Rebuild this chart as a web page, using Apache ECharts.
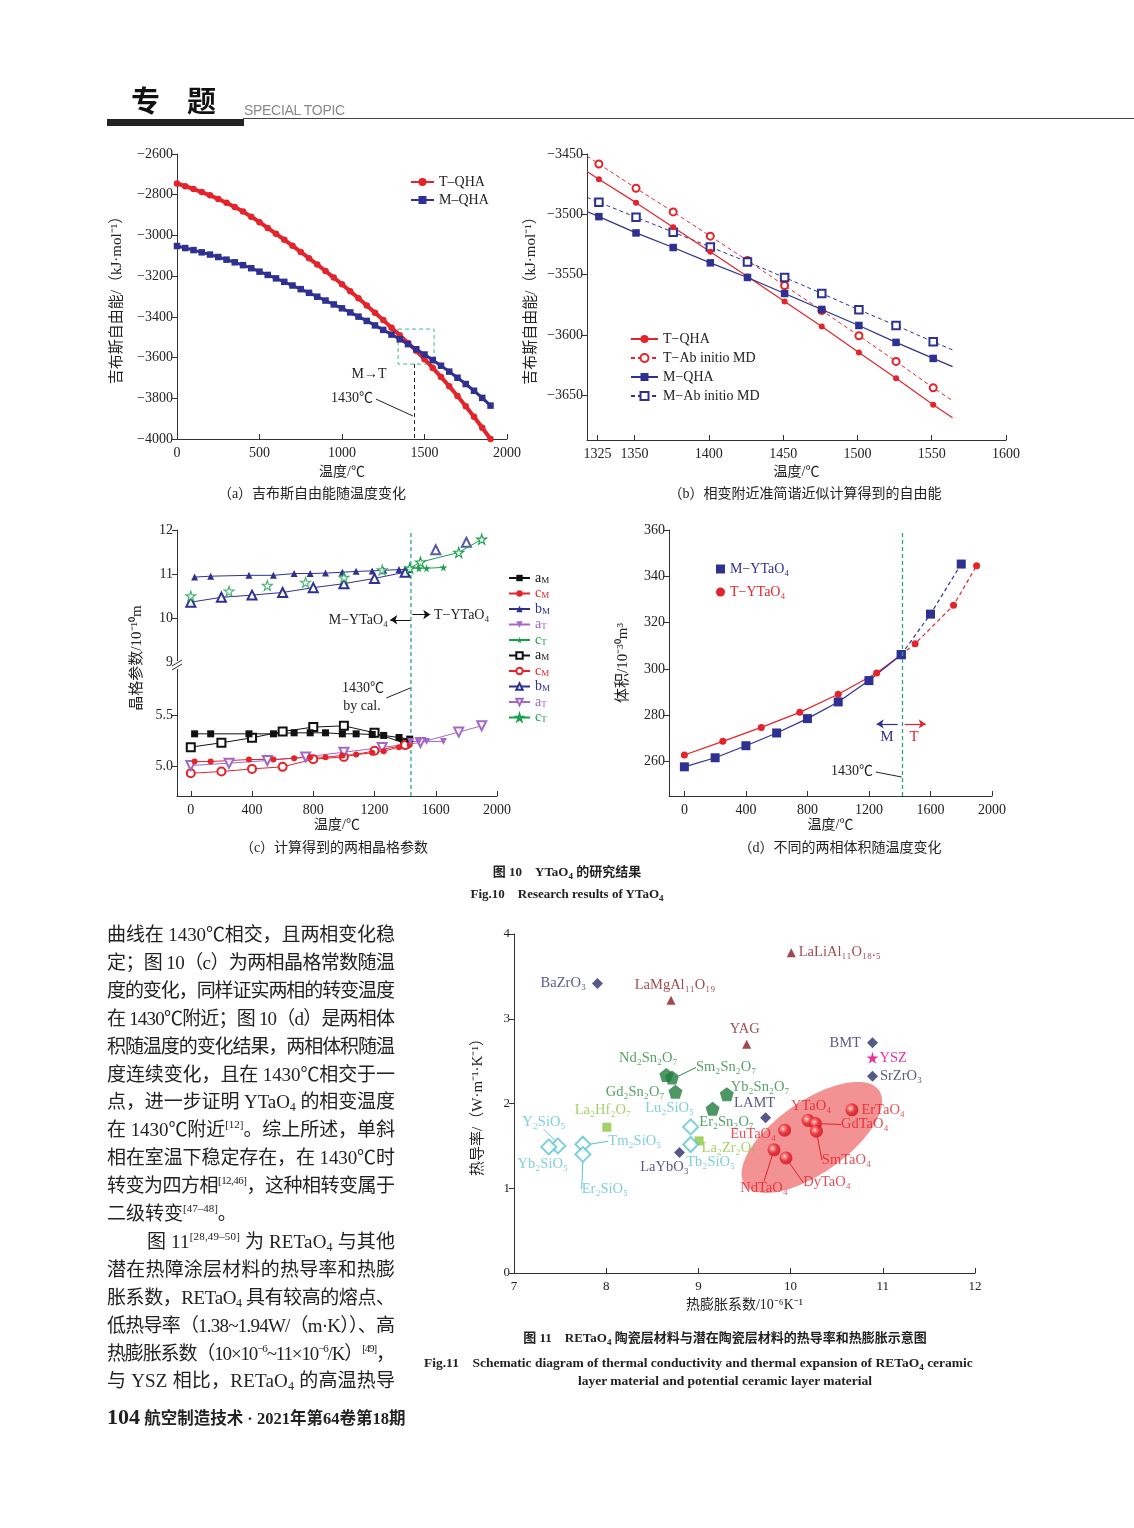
<!DOCTYPE html>
<html><head><meta charset="utf-8">
<script src="https://cdn.jsdelivr.net/npm/echarts@6/dist/echarts.min.js"></script>
<style>
html,body{margin:0;padding:0;background:#fff;}
#page{position:relative;width:1134px;height:1528px;overflow:hidden;background:#fff;}
#chart{position:absolute;left:0;top:0;width:1134px;height:1528px;}
.t{position:absolute;white-space:nowrap;font-family:"Liberation Serif","Noto Sans CJK SC",serif;color:#222;}
.c{transform:translateX(-50%);}
.jl{position:absolute;white-space:nowrap;font-family:"Liberation Serif","Noto Sans CJK SC",serif;font-size:19px;line-height:28px;color:#222;}
sub{font-size:12px;vertical-align:-3px;line-height:0;}
sup{font-size:11px;vertical-align:8px;line-height:0;}
.b{font-weight:bold;}
</style></head>
<body><div id="page">
<div id="chart"></div>
<div class="t" style="left:131px;top:78px;font-size:29px;font-weight:bold;letter-spacing:27px;font-family:'Noto Sans CJK SC';color:#111;">专题</div>
<div class="t" style="left:244px;top:102px;font-size:14px;color:#8a8a8a;font-family:'Liberation Sans';letter-spacing:-0.3px;">SPECIAL TOPIC</div>
<div style="position:absolute;left:107px;top:119px;width:137px;height:7px;background:#222;"></div>
<div style="position:absolute;left:243px;top:118px;width:891px;height:1px;background:#444;"></div>

<div class="t c" style="left:312px;top:482px;font-size:14px;">（a）吉布斯自由能随温度变化</div>
<div class="t c" style="left:805px;top:482px;font-size:14px;">（b）相变附近准简谐近似计算得到的自由能</div>
<div class="t c" style="left:334px;top:836px;font-size:14px;">（c）计算得到的两相晶格参数</div>
<div class="t c" style="left:840px;top:836px;font-size:14px;">（d）不同的两相体积随温度变化</div>
<div class="t c b" style="left:567px;top:861px;font-size:13px;">图 10　YTaO<sub style="font-size:9px">4</sub> 的研究结果</div>
<div class="t c b" style="left:567px;top:883px;font-size:13px;">Fig.10　Research results of YTaO<sub style="font-size:9px">4</sub></div>

<div class="t c b" style="left:725px;top:1327px;font-size:13px;">图 11　RETaO<sub style="font-size:9px">4</sub> 陶瓷层材料与潜在陶瓷层材料的热导率和热膨胀示意图</div>
<div class="t b" style="left:424px;top:1351px;font-size:13.5px;">Fig.11　Schematic diagram of thermal conductivity and thermal expansion of RETaO<sub style="font-size:9px">4</sub> ceramic</div>
<div class="t c b" style="left:725px;top:1373px;font-size:13.5px;">layer material and potential ceramic layer material</div>

<div class="t b" style="left:107px;top:1404px;font-size:16.5px;"><span style="font-size:22px;">104</span> 航空制造技术 · 2021年第64卷第18期</div>

<div id="para"></div>

<script>
// ---------------- DATA ----------------
// Fig.10(a) Gibbs free energy vs temperature
const aTemp = [0,50,100,150,200,250,300,350,400,450,500,550,600,650,700,750,800,850,900,950,1000,1050,1100,1150,1200,1250,1300,1350,1400,1450,1500,1550,1600,1650,1700,1750,1800,1850,1900];
const aTQHA = [-2745,-2758,-2772,-2787,-2803,-2821,-2840,-2860,-2883,-2908,-2935,-2963,-2992,-3021,-3051,-3081,-3112,-3143,-3175,-3207,-3240,-3274,-3309,-3344,-3380,-3416,-3453,-3490,-3528,-3567,-3608,-3651,-3695,-3741,-3789,-3839,-3891,-3945,-4000];
const aMQHA = [-3052,-3062,-3072,-3083,-3094,-3106,-3119,-3132,-3146,-3161,-3178,-3194,-3211,-3228,-3246,-3264,-3282,-3301,-3320,-3339,-3358,-3378,-3399,-3420,-3442,-3464,-3487,-3510,-3534,-3559,-3585,-3612,-3640,-3669,-3699,-3730,-3763,-3798,-3836];
const aXTicks = [0,500,1000,1500,2000];

// Fig.10(b) free energy near the transition
const bTemp = [1326,1351,1376,1401,1426,1451,1476,1501,1526,1551];
const bFitTemp = [1318,1564];
const bTQHA = [-3471,-3490.3,-3510.7,-3531.1,-3551.5,-3572.2,-3592.9,-3614.4,-3635.9,-3657.7];
const bTQHAFit = [-3464.4,-3668.5];
const bTMD = [-3458.3,-3478.4,-3498,-3518.1,-3538.3,-3559,-3579.7,-3600.6,-3621.9,-3643.7];
const bTMDFit = [-3451.7,-3654.4];
const bMQHA = [-3501.9,-3515.4,-3527.5,-3540.2,-3552.3,-3565.6,-3578.8,-3592.1,-3606.1,-3619.4];
const bMQHAFit = [-3497.7,-3626.2];
const bMMD = [-3490,-3502.4,-3514.8,-3527,-3539.4,-3552.3,-3565.6,-3579.1,-3592.1,-3605.6];
const bMMDFit = [-3485.9,-3612.3];
const bXTicks = [1325,1350,1400,1450,1500,1550,1600];
const bYTicks = [-3650,-3600,-3550,-3500,-3450];

// Fig.10(c) lattice parameters
const cTempMf = [25,130,380,540,675,780,880,990,1080,1185,1260,1360,1430];
const c_aMf = [5.322,5.322,5.322,5.322,5.332,5.332,5.332,5.322,5.322,5.316,5.306,5.286,5.27];
const c_cMf = [5.049,5.049,5.069,5.069,5.082,5.092,5.092,5.109,5.118,5.135,5.151,5.191,5.214];
const c_bMf = [10.93,10.95,10.97,10.97,11.01,11.01,11.02,11.04,11.06,11.07,11.085,11.10,11.10];
const cTempTf = [1435,1490,1540,1650];
const c_aTf = [5.247,5.247,5.247,5.247];
const c_cTf = [11.13,11.13,11.13,11.15];
const cTempMo = [0,200,400,600,800,1000,1200,1400];
const c_aMo = [5.191,5.234,5.283,5.345,5.388,5.401,5.332,5.227];
const c_cMo = [4.934,4.951,4.977,4.997,5.072,5.095,5.155,5.211];
const c_bMo = [10.36,10.47,10.52,10.58,10.69,10.78,10.90,11.04];
const cTempMoHigh = [1600,1800];
const c_bMoHigh = [11.55,11.72];
const cTempTo = [0,250,500,750,1000,1250,1430,1500,1750,1900];
const c_cTo = [10.50,10.61,10.74,10.81,10.92,11.09,11.13,11.27,11.49,11.79];
const cTempTa = [0,250,500,750,1000,1250,1500,1750,1900];
const c_aTo = [5.010,5.033,5.059,5.095,5.141,5.188,5.237,5.339,5.401];
const cXTicks = [0,400,800,1200,1600,2000];
const cLowTicks = [5.0,5.5];
const cTransition = 1438;

// Fig.10(d) cell volume
const dTempM = [0,200,400,600,800,1000,1200,1410,1600,1800];
const dVolM = [257.8,261.7,266.9,272.4,278.6,285.8,295.0,306.2,323.7,345.3];
const dTempT = [0,250,500,750,1000,1250,1410,1500,1750,1900];
const dVolT = [262.9,268.8,274.8,281.3,289.1,298.3,306.2,310.9,327.5,344.6];
const dXTicks = [0,400,800,1200,1600,2000];
const dYTicks = [260,280,300,320,340,360];
const dTransition = 1415;

// Fig.11 thermal conductivity vs thermal expansion
const diaNames = ['BaZrO3','LAMT','BMT','SrZrO3','LaYbO3'];
const diaCTE = [7.905,9.729,10.888,10.888,8.795];
const diaK = [3.417,1.831,2.717,2.323,1.421];
const triNames = ['LaMgAl11O19','YAG','LaLiAl11O18.5'];
const triCTE = [8.703,9.524,10.007];
const triK = [3.217,2.70,3.78];
const pentNames = ['Nd2Sn2O7','Sm2Sn2O7','Gd2Sn2O7','Yb2Sn2O7','Er2Sn2O7'];
const pentCTE = [8.652,8.714,8.751,9.308,9.154];
const pentK = [2.335,2.307,2.138,2.110,1.937];
const sqNames = ['La2Hf2O7','La2Zr2O7'];
const sqCTE = [8.007,9.007];
const sqK = [1.72,1.559];
const silNames = ['Lu2SiO5','Tb2SiO5','Y2SiO5','Yb2SiO5','Tm2SiO5','Er2SiO5'];
const silCTE = [8.916,8.916,7.476,7.377,7.747,7.747];
const silK = [1.724,1.516,1.50,1.488,1.52,1.40];
const yszNames = ['YSZ'];
const yszCTE = [10.888];
const yszK = [2.539];
const taNames = ['YTaO4','GdTaO4','ErTaO4','EuTaO4','SmTaO4','NdTaO4','DyTaO4'];
const taCTE = [10.19,10.27,10.665,9.935,10.28,9.82,9.95];
const taK = [1.80,1.764,1.925,1.685,1.673,1.453,1.358];
const ellipseCenter = [10.23,1.60];

// ---------------- STYLE ----------------
const serif = '"Liberation Serif","Noto Sans CJK SC",serif';
const RED = '#e3242b', NAVY = '#2e3192', GREEN = '#17a04b', PURPLE = '#a467c6', TEAL = '#2aa58a', BLK = '#111';
const STAR = 'path://M50,0 L61,35 L98,35 L68,57 L79,91 L50,70 L21,91 L32,57 L2,35 L39,35 Z';
const PENT = 'path://M50,0 L97.6,34.5 L79.4,90.5 L20.6,90.5 L2.4,34.5 Z';
const plain = v => String(v);
const minus = v => (v < 0 ? '−' : '') + Math.abs(v);
const zip = (xs, ys) => xs.map((x, i) => [x, ys[i]]);
const SUBS = '₀₁₂₃₄₅₆₇₈₉';
const sub = s => s.replace(/([A-Za-z])([0-9.]+)/g, (m, a, d) => a + d.split('').map(ch => ch === '.' ? '.' : SUBS[+ch]).join(''));

function deep(a, b) {
  for (const k in b) {
    if (b[k] && typeof b[k] === 'object' && !Array.isArray(b[k]) && !(b[k] instanceof Function) && a[k] && typeof a[k] === 'object') deep(a[k], b[k]);
    else a[k] = b[k];
  }
  return a;
}
function xAx(gi, min, max, extra) {
  const o = {
    type: 'value', gridIndex: gi, min, max,
    axisLine: {show: true, onZero: false, lineStyle: {color: '#333', width: 1}},
    axisTick: {show: true, inside: true, length: 5, lineStyle: {color: '#333'}},
    axisLabel: {color: '#222', fontFamily: serif, fontSize: 14, margin: 7, formatter: plain},
    splitLine: {show: false},
    nameLocation: 'middle',
    nameTextStyle: {fontFamily: serif, fontSize: 14, color: '#222'}
  };
  return deep(o, extra || {});
}
function yAx(gi, min, max, extra) {
  const o = {
    type: 'value', gridIndex: gi, min, max,
    axisLine: {show: true, onZero: false, lineStyle: {color: '#333', width: 1}},
    axisTick: {show: true, inside: false, length: 5, lineStyle: {color: '#333'}},
    axisLabel: {color: '#222', fontFamily: serif, fontSize: 14, margin: 4, formatter: plain},
    splitLine: {show: false},
    nameLocation: 'middle', nameRotate: 90,
    nameTextStyle: {fontFamily: serif, fontSize: 15, color: '#222'}
  };
  return deep(o, extra || {});
}
function fitData(vals, fit) {
  return [{value: [bFitTemp[0], fit[0]], symbol: 'none'}]
    .concat(bTemp.map((t, i) => [t, vals[i]]))
    .concat([{value: [bFitTemp[1], fit[1]], symbol: 'none'}]);
}

// label placements for Fig.11 (position, distance, shift dx/dy, leader line)
const place = {
  BaZrO3: {p: 'left', d: 6}, LaMgAl11O19: {p: 'top', dx: 4, dy: 2}, YAG: {p: 'top', dx: -2, dy: 2},
  'LaLiAl11O18.5': {p: 'right', d: 3}, Nd2Sn2O7: {p: 'top', dx: -18, dy: 2},
  Sm2Sn2O7: {p: 'right', dx: 12, dy: -10, line: true}, Gd2Sn2O7: {p: 'left', d: 4},
  Yb2Sn2O7: {p: 'right', dx: -8, dy: -7}, Er2Sn2O7: {p: 'bottom', dx: 14, dy: -6},
  LAMT: {p: 'top', dx: -11, dy: 3}, BMT: {p: 'left', d: 6}, YSZ: {p: 'right', d: 1}, SrZrO3: {p: 'right', d: 2},
  La2Hf2O7: {p: 'top', dx: -4, dy: 0}, La2Zr2O7: {p: 'right', dx: -7, dy: 7},
  Lu2SiO5: {p: 'top', dx: -21, dy: 2}, Tb2SiO5: {p: 'bottom', dx: 20, dy: -3}, LaYbO3: {p: 'bottom', dx: -15, dy: -3},
  Y2SiO5: {p: 'top', dx: -14, dy: -3, line: true}, Yb2SiO5: {p: 'bottom', dx: -6, dy: -3},
  Tm2SiO5: {p: 'right', dx: 12, dy: -3, line: true}, Er2SiO5: {p: 'bottom', dx: 22, dy: 14, line: true},
  YTaO4: {p: 'top', dx: 3, dy: 4}, GdTaO4: {p: 'right', dx: 14, dy: 1, line: true}, ErTaO4: {p: 'right', d: 3},
  EuTaO4: {p: 'left', dx: 0, dy: 4, d: 2}, SmTaO4: {p: 'bottom', dx: 30, dy: 10, line: true},
  NdTaO4: {p: 'bottom', dx: -10, dy: 20, line: true}, DyTaO4: {p: 'bottom', dx: 41, dy: 6, line: true}
};
function matSeries(names, xs, ys, symbol, size, itemStyle, labelColor) {
  return {
    type: 'scatter', xAxisIndex: 6, yAxisIndex: 6, symbol, symbolSize: size, itemStyle, z: 5,
    data: names.map((n, i) => {
      const pl = place[n] || {p: 'right'};
      const item = {name: n, value: [xs[i], ys[i]],
        label: {position: pl.p, distance: pl.d != null ? pl.d : 5}};
      if (pl.line) item.labelLine = {show: true, lineStyle: {color: labelColor, width: 1}};
      return item;
    }),
    label: {show: true, formatter: p => sub(p.name), color: labelColor, fontFamily: serif, fontSize: 14.5},
    labelLayout: p => { const pl = place[names[p.dataIndex]]; return pl && pl.dx != null ? {dx: pl.dx, dy: pl.dy} : {}; }
  };
}

const sphere = new echarts.graphic.RadialGradient(0.38, 0.38, 0.65, [
  {offset: 0, color: '#ffffff'}, {offset: 0.22, color: '#ff8a8a'}, {offset: 0.55, color: '#e8202a'}, {offset: 1, color: '#c8101a'}]);

const cLegendStyle = {rich: {
  a: {fontSize: 14, lineHeight: 14, fontFamily: serif},
  b: {fontSize: 9, lineHeight: 14, verticalAlign: 'bottom', fontFamily: serif, padding: [4, 0, 0, 0]}
}};

const option = {
  animation: false,
  backgroundColor: 'transparent',
  grid: [
    {left: 177, top: 154, width: 330, height: 285},
    {left: 587, top: 154, width: 419, height: 286},
    {left: 177, top: 530, width: 320, height: 132},
    {left: 177, top: 668, width: 320, height: 128},
    {left: 177, top: 530, width: 320, height: 266},
    {left: 669, top: 530, width: 323, height: 266},
    {left: 514, top: 934, width: 461, height: 339}
  ],
  xAxis: [
    xAx(0, 0, 2000, {interval: 500, name: '温度/℃', nameGap: 26, axisLabel: {customValues: aXTicks}, axisTick: {customValues: aXTicks}}),
    xAx(1, 1318, 1600, {name: '温度/℃', nameGap: 25, axisLabel: {customValues: bXTicks}, axisTick: {customValues: bXTicks}}),
    xAx(2, -90, 2000, {show: false}),
    xAx(3, -90, 2000, {name: '温度/℃', nameGap: 22, axisLabel: {customValues: cXTicks}, axisTick: {customValues: cXTicks}}),
    xAx(4, -90, 2000, {show: false}),
    xAx(5, -100, 2000, {name: '温度/℃', nameGap: 22, axisLabel: {customValues: dXTicks}, axisTick: {customValues: dXTicks}}),
    xAx(6, 7, 12, {interval: 1, name: '热膨胀系数/10⁻⁶K⁻¹', nameGap: 25, axisLabel: {fontSize: 13}})
  ],
  yAxis: [
    yAx(0, -4000, -2600, {interval: 200, name: '吉布斯自由能/（kJ·mol⁻¹）', nameGap: 52, axisLabel: {formatter: minus}}),
    yAx(1, -3687, -3450, {name: '吉布斯自由能/（kJ·mol⁻¹）', nameGap: 48, axisLabel: {formatter: minus, customValues: bYTicks}, axisTick: {customValues: bYTicks}}),
    yAx(2, 9, 12, {interval: 1}),
    yAx(3, 4.71, 5.97, {axisLabel: {formatter: v => v.toFixed(1), customValues: cLowTicks}, axisTick: {customValues: cLowTicks}}),
    yAx(4, 0, 1, {show: false}),
    yAx(5, 245.2, 360, {name: '体积/10⁻³⁰m³', nameGap: 38, axisLabel: {customValues: dYTicks}, axisTick: {customValues: dYTicks}}),
    yAx(6, 0, 4, {interval: 1, name: '热导率/（W·m⁻¹·K⁻¹）', nameGap: 28, axisLabel: {fontSize: 13}})
  ],
  legend: [
    {data: ['T–QHA', 'M–QHA'], left: 405, top: 170, orient: 'vertical', itemWidth: 23, itemHeight: 10, itemGap: 4, selectedMode: false,
      textStyle: {fontFamily: serif, fontSize: 14, color: '#222'}},
    {data: ['T−QHA', 'T−Ab initio MD', 'M−QHA', 'M−Ab initio MD'], left: 625, top: 327, orient: 'vertical', itemWidth: 27, itemHeight: 10, itemGap: 5, selectedMode: false,
      textStyle: {fontFamily: serif, fontSize: 14, color: '#222'}},
    {data: [
        {name: 'aM1', textStyle: {color: BLK}}, {name: 'cM1', textStyle: {color: RED}}, {name: 'bM1', textStyle: {color: NAVY}},
        {name: 'aT1', textStyle: {color: PURPLE}}, {name: 'cT1', textStyle: {color: GREEN}},
        {name: 'aM2', textStyle: {color: BLK}}, {name: 'cM2', textStyle: {color: RED}}, {name: 'bM2', textStyle: {color: NAVY}},
        {name: 'aT2', textStyle: {color: PURPLE}}, {name: 'cT2', textStyle: {color: GREEN}}],
      left: 503, top: 566, orient: 'vertical', itemWidth: 21, itemHeight: 8, itemGap: 1.5, selectedMode: false,
      formatter: n => '{a|' + n[0] + '}{b|' + n[1] + '}', textStyle: cLegendStyle},
    {data: [{name: 'M−YTaO₄', icon: 'rect', textStyle: {color: NAVY}}, {name: 'T−YTaO₄', icon: 'circle', textStyle: {color: RED}}],
      left: 711, top: 557, orient: 'vertical', itemWidth: 9, itemHeight: 9, itemGap: 9, selectedMode: false,
      textStyle: {fontFamily: serif, fontSize: 14}}
  ],
  series: [
    // ---- (a)
    {name: 'T–QHA', type: 'line', xAxisIndex: 0, yAxisIndex: 0, data: zip(aTemp, aTQHA), symbol: 'circle', symbolSize: 6.5,
      itemStyle: {color: RED}, lineStyle: {color: RED, width: 4}, z: 3},
    {name: 'M–QHA', type: 'line', xAxisIndex: 0, yAxisIndex: 0, data: zip(aTemp, aMQHA), symbol: 'rect', symbolSize: 6.5,
      itemStyle: {color: NAVY}, lineStyle: {color: NAVY, width: 3}, z: 4,
      markArea: {silent: true, itemStyle: {color: 'rgba(0,0,0,0)', borderColor: '#3dbb8f', borderWidth: 1, borderType: [4, 3]},
        data: [[{coord: [1340, -3460]}, {coord: [1558, -3632]}]]},
      markLine: {silent: true, symbol: ['none', 'none'], label: {show: false}, animation: false,
        data: [
          [{coord: [1438, -3632], lineStyle: {type: [4, 3], color: '#222', width: 1}}, {coord: [1438, -4000]}],
          [{coord: [1206, -3804], lineStyle: {type: 'solid', color: '#222', width: 1}}, {coord: [1430, -3887]}]
        ]}},
    // ---- (b)
    {name: 'T−Ab initio MD', type: 'line', xAxisIndex: 1, yAxisIndex: 1, data: fitData(bTMD, bTMDFit), symbol: 'emptyCircle', symbolSize: 7,
      itemStyle: {color: RED}, lineStyle: {color: RED, width: 1, type: [4, 3]}},
    {name: 'M−Ab initio MD', type: 'line', xAxisIndex: 1, yAxisIndex: 1, data: fitData(bMMD, bMMDFit), symbol: 'emptyRect', symbolSize: 7.5,
      itemStyle: {color: NAVY}, lineStyle: {color: NAVY, width: 1, type: [4, 3]}},
    {name: 'T−QHA', type: 'line', xAxisIndex: 1, yAxisIndex: 1, data: fitData(bTQHA, bTQHAFit), symbol: 'circle', symbolSize: 6,
      itemStyle: {color: RED}, lineStyle: {color: RED, width: 1.2}},
    {name: 'M−QHA', type: 'line', xAxisIndex: 1, yAxisIndex: 1, data: fitData(bMQHA, bMQHAFit), symbol: 'rect', symbolSize: 7.5,
      itemStyle: {color: NAVY}, lineStyle: {color: NAVY, width: 1.2}},
    // ---- (c) transition line
    {name: 'cTrans', type: 'line', xAxisIndex: 4, yAxisIndex: 4, data: [[cTransition, 0], [cTransition, 1]], symbol: 'none',
      lineStyle: {color: TEAL, width: 1.3, type: [4, 3]}, silent: true, z: 1},
    // upper
    {name: 'bM2', type: 'line', xAxisIndex: 2, yAxisIndex: 2, data: zip(cTempMo, c_bMo), symbol: 'emptyTriangle', symbolSize: 9,
      itemStyle: {color: NAVY}, lineStyle: {color: NAVY, width: 1}},
    {name: 'bM2x', type: 'scatter', xAxisIndex: 2, yAxisIndex: 2, data: zip(cTempMoHigh, c_bMoHigh), symbol: 'emptyTriangle', symbolSize: 9,
      itemStyle: {color: NAVY}},
    {name: 'cT2x', type: 'scatter', xAxisIndex: 2, yAxisIndex: 2, data: zip(cTempTo, c_cTo).filter(d => d[0] < 1400), symbol: STAR, symbolSize: 10,
      itemStyle: {color: '#fff', borderColor: GREEN, borderWidth: 1.1}, z: 4},
    {name: 'cT2', type: 'line', xAxisIndex: 2, yAxisIndex: 2, data: zip(cTempTo, c_cTo).filter(d => d[0] >= 1400), symbol: STAR, symbolSize: 10,
      itemStyle: {color: '#fff', borderColor: GREEN, borderWidth: 1.1}, lineStyle: {color: GREEN, width: 1}, z: 4},
    {name: 'bM1', type: 'line', xAxisIndex: 2, yAxisIndex: 2, data: zip(cTempMf, c_bMf), symbol: 'triangle', symbolSize: 7,
      itemStyle: {color: NAVY}, lineStyle: {color: NAVY, width: 1}},
    {name: 'cT1', type: 'line', xAxisIndex: 2, yAxisIndex: 2, data: zip(cTempTf, c_cTf), symbol: STAR, symbolSize: 8,
      itemStyle: {color: GREEN}, lineStyle: {color: GREEN, width: 1}},
    // lower
    {name: 'aM2', type: 'line', xAxisIndex: 3, yAxisIndex: 3, data: zip(cTempMo, c_aMo), symbol: 'emptyRect', symbolSize: 8,
      itemStyle: {color: BLK}, lineStyle: {color: BLK, width: 1}},
    {name: 'cM2', type: 'line', xAxisIndex: 3, yAxisIndex: 3, data: zip(cTempMo, c_cMo), symbol: 'emptyCircle', symbolSize: 8,
      itemStyle: {color: RED}, lineStyle: {color: RED, width: 1}},
    {name: 'aT2', type: 'line', xAxisIndex: 3, yAxisIndex: 3, data: zip(cTempTa, c_aTo), symbol: 'emptyTriangle', symbolRotate: 180, symbolSize: 9,
      itemStyle: {color: PURPLE}, lineStyle: {color: PURPLE, width: 1}},
    {name: 'aM1', type: 'line', xAxisIndex: 3, yAxisIndex: 3, data: zip(cTempMf, c_aMf), symbol: 'rect', symbolSize: 7,
      itemStyle: {color: BLK}, lineStyle: {color: BLK, width: 1}},
    {name: 'cM1', type: 'line', xAxisIndex: 3, yAxisIndex: 3, data: zip(cTempMf, c_cMf), symbol: 'circle', symbolSize: 6,
      itemStyle: {color: RED}, lineStyle: {color: RED, width: 1},
      markLine: {silent: true, symbol: ['none', 'none'], label: {show: false},
        data: [[{coord: [1277, 5.675], lineStyle: {type: 'solid', color: '#222', width: 1}}, {coord: [1434, 5.773]}]]}},
    {name: 'aT1', type: 'line', xAxisIndex: 3, yAxisIndex: 3, data: zip(cTempTf, c_aTf), symbol: 'triangle', symbolRotate: 180, symbolSize: 7,
      itemStyle: {color: PURPLE}, lineStyle: {color: PURPLE, width: 1}},
    // arrows in (c) on upper grid
    {name: 'cArrows', type: 'line', xAxisIndex: 2, yAxisIndex: 2, data: [], silent: true,
      markLine: {silent: true, symbol: ['none', 'arrow'], symbolSize: 7, label: {show: false},
        data: [
          [{coord: [1434, 9.96], lineStyle: {color: '#111', width: 1, type: 'solid'}}, {coord: [1303, 9.96]}],
          [{coord: [1447, 10.08], lineStyle: {color: '#111', width: 1, type: 'solid'}}, {coord: [1564, 10.08]}]
        ]}},
    // ---- (d)
    {name: 'T−YTaO₄', type: 'line', xAxisIndex: 5, yAxisIndex: 5, data: zip(dTempT, dVolT).filter(d => d[0] <= 1410), symbol: 'circle', symbolSize: 7,
      itemStyle: {color: RED}, lineStyle: {color: RED, width: 1.2}},
    {name: 'T−YTaO₄d', type: 'line', xAxisIndex: 5, yAxisIndex: 5, data: zip(dTempT, dVolT).filter(d => d[0] >= 1410), symbol: 'circle', symbolSize: 7,
      itemStyle: {color: RED}, lineStyle: {color: RED, width: 1.2, type: [4, 3]}},
    {name: 'M−YTaO₄d', type: 'line', xAxisIndex: 5, yAxisIndex: 5, data: zip(dTempM, dVolM).filter(d => d[0] >= 1410), symbol: 'rect', symbolSize: 9,
      itemStyle: {color: NAVY}, lineStyle: {color: NAVY, width: 1.2, type: [4, 3]}},
    {name: 'M−YTaO₄', type: 'line', xAxisIndex: 5, yAxisIndex: 5, data: zip(dTempM, dVolM).filter(d => d[0] <= 1410), symbol: 'rect', symbolSize: 9,
      itemStyle: {color: NAVY}, lineStyle: {color: NAVY, width: 1.2},
      markLine: {silent: true, symbol: ['none', 'none'], label: {show: false},
        data: [
          {xAxis: dTransition, lineStyle: {color: TEAL, width: 1.3, type: [4, 3]}},
          [{coord: [1244, 255.55], lineStyle: {color: '#222', width: 1, type: 'solid'}}, {coord: [1413, 253.4]}],
          [{coord: [1387, 276.3], symbol: 'none', lineStyle: {color: NAVY, width: 1.2, type: 'solid'}}, {coord: [1250, 276.3], symbol: 'arrow', symbolSize: 7}],
          [{coord: [1432, 276.3], symbol: 'none', lineStyle: {color: RED, width: 1.2, type: 'solid'}}, {coord: [1569, 276.3], symbol: 'arrow', symbolSize: 7}]
        ]}},
    // ---- Fig.11
    {name: 'ellipse', type: 'custom', xAxisIndex: 6, yAxisIndex: 6, data: [ellipseCenter], silent: true, z: 1,
      renderItem: (params, api) => {
        const c = api.coord([api.value(0), api.value(1)]);
        const a = 82, b = 36, th = 35 * Math.PI / 180, pts = [];
        for (let i = 0; i < 90; i++) {
          const t = i / 90 * 2 * Math.PI, x = a * Math.cos(t), y = b * Math.sin(t);
          pts.push([c[0] + x * Math.cos(th) + y * Math.sin(th), c[1] - x * Math.sin(th) + y * Math.cos(th)]);
        }
        return {type: 'polygon', shape: {points: pts}, style: {fill: 'rgba(238,104,104,0.72)'}};
      }},
    matSeries(diaNames, diaCTE, diaK, 'diamond', 11, {color: '#2c3168'}, '#2c3168'),
    matSeries(triNames, triCTE, triK, 'triangle', 9, {color: '#8b1c22'}, '#8b1c22'),
    matSeries(pentNames, pentCTE, pentK, PENT, 14, {color: '#1f7d3d'}, '#2b8a3e'),
    matSeries(sqNames, sqCTE, sqK, 'rect', 9, {color: '#8cc63f'}, '#8cc63f'),
    matSeries(silNames, silCTE, silK, 'emptyDiamond', 15, {color: '#5bc4cf', borderWidth: 2.5}, '#5bc4cf'),
    matSeries(yszNames, yszCTE, yszK, STAR, 12, {color: '#e5007e'}, '#e5007e'),
    matSeries(taNames, taCTE, taK, 'circle', 13, {color: sphere}, '#e2202a')
  ],
  graphic: [
    // (a)
    {type: 'text', x: 369, y: 374, style: {text: 'M→T', font: '14px ' + serif, fill: '#222', align: 'center', verticalAlign: 'middle'}},
    {type: 'text', x: 352, y: 398, style: {text: '1430℃', font: '14px ' + serif, fill: '#222', align: 'center', verticalAlign: 'middle'}},
    // (c)
    {type: 'text', x: 388, y: 620, style: {text: 'M−YTaO₄', font: '14px ' + serif, fill: '#222', align: 'right', verticalAlign: 'middle'}},
    {type: 'text', x: 434, y: 615, style: {text: 'T−YTaO₄', font: '14px ' + serif, fill: '#222', align: 'left', verticalAlign: 'middle'}},
    {type: 'text', x: 363, y: 688, style: {text: '1430℃', font: '14px ' + serif, fill: '#222', align: 'center', verticalAlign: 'middle'}},
    {type: 'text', x: 362, y: 706, style: {text: 'by cal.', font: '14px ' + serif, fill: '#222', align: 'center', verticalAlign: 'middle'}},
    {type: 'text', x: 137, y: 658, rotation: Math.PI / 2, style: {text: '晶格参数/10⁻¹⁰m', font: '15px ' + serif, fill: '#222', align: 'center', verticalAlign: 'middle'}},
    {type: 'rect', shape: {x: 172, y: 661, width: 10, height: 8}, style: {fill: '#fff'}, z: 100},
    {type: 'line', shape: {x1: 172, y1: 666, x2: 182, y2: 660}, style: {stroke: '#333', lineWidth: 1}, z: 101},
    {type: 'line', shape: {x1: 172, y1: 670, x2: 182, y2: 664}, style: {stroke: '#333', lineWidth: 1}, z: 101},
    // (d)
    {type: 'text', x: 887, y: 737, style: {text: 'M', font: '15px ' + serif, fill: NAVY, align: 'center', verticalAlign: 'middle'}},
    {type: 'text', x: 914, y: 737, style: {text: 'T', font: '15px ' + serif, fill: RED, align: 'center', verticalAlign: 'middle'}},
    {type: 'text', x: 852, y: 771, style: {text: '1430℃', font: '14px ' + serif, fill: '#222', align: 'center', verticalAlign: 'middle'}}
  ]
};

const chart = echarts.init(document.getElementById('chart'));
chart.setOption(option);

// ---------------- Body text ----------------
const paraLines = [
  '曲线在 1430℃相交，且两相变化稳',
  '定；图 10（c）为两相晶格常数随温',
  '度的变化，同样证实两相的转变温度',
  '在 1430℃附近；图 10（d）是两相体',
  '积随温度的变化结果，两相体积随温',
  '度连续变化，且在 1430℃相交于一',
  '点，进一步证明 YTaO<sub>4</sub> 的相变温度',
  '在 1430℃附近<sup>[12]</sup>。综上所述，单斜',
  '相在室温下稳定存在，在 1430℃时',
  '转变为四方相<sup>[12,46]</sup>，这种相转变属于',
  '二级转变<sup>[47–48]</sup>。',
  '图 11<sup>[28,49–50]</sup> 为 RETaO<sub>4</sub> 与其他',
  '潜在热障涂层材料的热导率和热膨',
  '胀系数，RETaO<sub>4</sub> 具有较高的熔点、',
  '低热导率（1.38~1.94W/（m·K））、高',
  '热膨胀系数（10×10<sup>−6</sup>~11×10<sup>−6</sup>/K）<sup>[49]</sup>，',
  '与 YSZ 相比，RETaO<sub>4</sub> 的高温热导'
];
const para = document.getElementById('para');
paraLines.forEach((html, i) => {
  const d = document.createElement('div');
  d.className = 'jl';
  const left = i === 11 ? 147 : 107;
  const width = 395 - left;
  d.style.left = left + 'px';
  d.style.top = (935 + 27.9 * i - 14) + 'px';
  d.innerHTML = html;
  para.appendChild(d);
  if (i !== 10) {
    const w = d.getBoundingClientRect().width;
    const n = d.textContent.length;
    const ls = (width - w) / (n - 1);
    d.style.letterSpacing = ls + 'px';
  }
});
</script>
</div></body></html>
